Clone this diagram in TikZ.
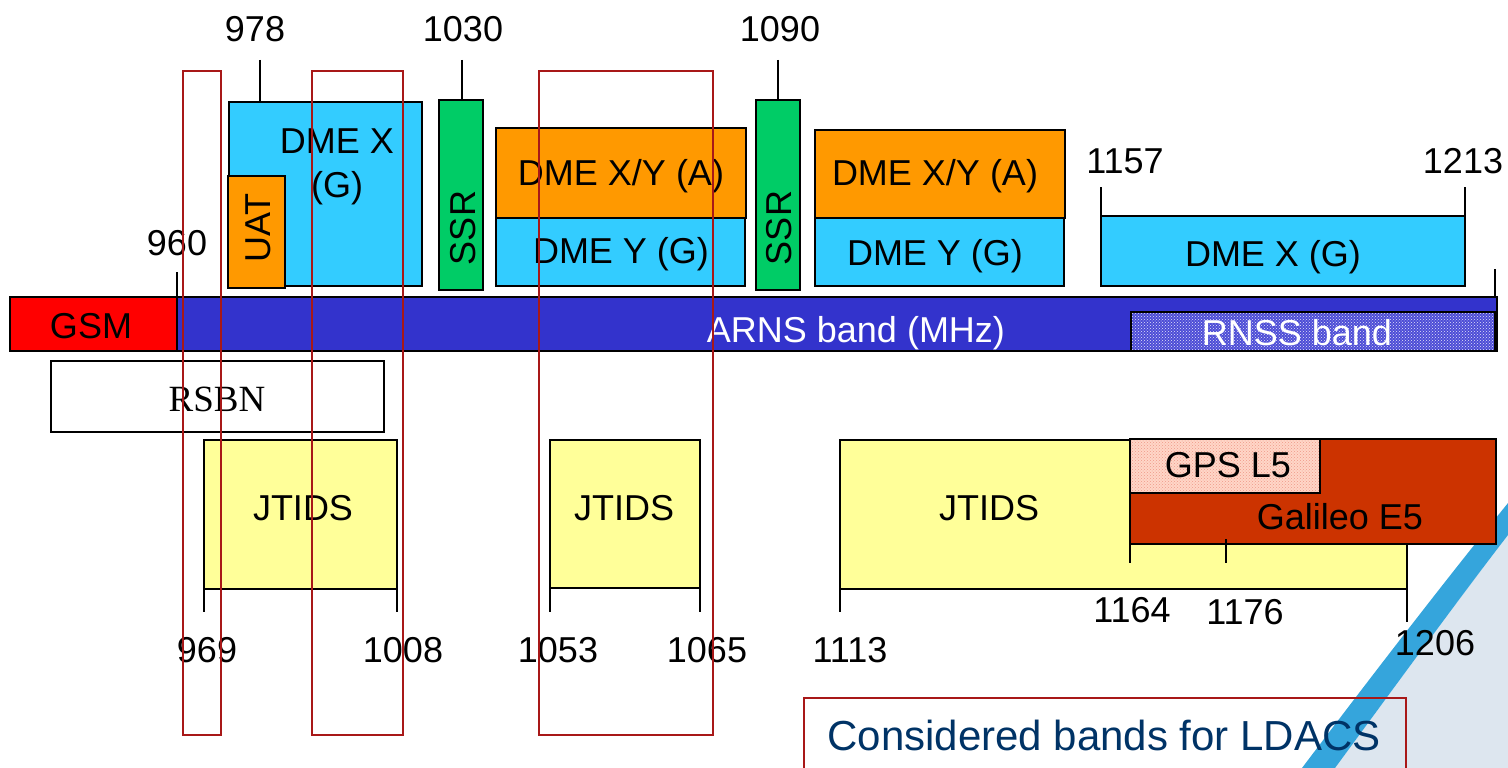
\documentclass[tikz,border=0pt]{standalone}
\usepackage{fontspec}
\setmainfont{Liberation Sans}
\newfontfamily\rsbnfont{Liberation Serif}
\usetikzlibrary{patterns}
\definecolor{dmeblue}{HTML}{33CCFF}
\definecolor{dmeorange}{HTML}{FF9900}
\definecolor{ssrgreen}{HTML}{00CC66}
\definecolor{gsmred}{HTML}{FF0000}
\definecolor{arnsblue}{HTML}{3333CC}
\definecolor{rnssblue}{HTML}{4C4CD6}
\definecolor{jtidsyellow}{HTML}{FFFF99}
\definecolor{galileored}{HTML}{CC3300}
\definecolor{gpspink}{HTML}{FFD6C8}
\definecolor{gpsdot}{HTML}{EE9A88}
\definecolor{ldacsred}{HTML}{A81818}
\definecolor{ldacsblue}{HTML}{003366}
\definecolor{swooshblue}{HTML}{35A5DC}
\definecolor{swooshbg}{HTML}{DDE6EF}
\newcommand\bandbox[6]{%
  \node[#2, anchor=north west, minimum width={(#5-#3)*1pt}, minimum height={(#6-#4)*1pt}] (#1) at (#3,#4) {};}
\tikzset{
  box/.style={rectangle, draw=black, line width=2.5pt, inner sep=0pt, outer sep=0pt},
  redbox/.style={rectangle, draw=ldacsred, line width=1.6pt, inner sep=0pt, outer sep=0pt},
  lbl/.style={font=\fontsize{36}{43}\selectfont, inner sep=0pt, anchor=base},
  vlbl/.style={font=\fontsize{36}{43}\selectfont, inner sep=0pt, rotate=90},
  tickline/.style={line width=2pt, draw=black},
}
\begin{document}
\begin{tikzpicture}[x=1pt,y=-1pt]
\useasboundingbox (0,0) rectangle (1508,768);
% background swoosh
\fill[swooshbg] (1508,535) .. controls (1460,597) and (1385,700) .. (1335,768) -- (1508,768) -- cycle;
\fill[swooshblue] (1508,503) .. controls (1447,578) and (1370,678) .. (1302,768) -- (1335,768) .. controls (1385,700) and (1460,597) .. (1508,535) -- cycle;
% main bar
\bandbox{arns}{box, fill=arnsblue}{10}{297}{1497}{351}
\bandbox{gsm}{box, fill=gsmred}{10}{297}{177}{351}
\bandbox{rnss}{box, line width=2pt, preaction={fill=rnssblue}, pattern=crosshatch dots, pattern color=white!85!rnssblue}{1131}{312}{1495}{351}
% upper band boxes
\bandbox{dmex1}{box, fill=dmeblue}{229}{102}{422}{286}
\bandbox{uat}{box, fill=dmeorange}{228}{176}{285}{288}
\bandbox{ssr1}{box, fill=ssrgreen}{439}{100}{483}{290}
\bandbox{dmexya1}{box, fill=dmeorange}{496}{128}{746}{218}
\bandbox{dmeyg1}{box, fill=dmeblue}{496}{218}{745}{286}
\bandbox{ssr2}{box, fill=ssrgreen}{756}{100}{800}{290}
\bandbox{dmexya2}{box, fill=dmeorange}{815}{130}{1065}{218}
\bandbox{dmeyg2}{box, fill=dmeblue}{815}{218}{1064}{286}
\bandbox{dmex3}{box, fill=dmeblue}{1101}{216}{1465}{286}
% lower band boxes
\bandbox{rsbn}{box, fill=white}{51}{361}{384}{432}
\bandbox{jtids1}{box, fill=jtidsyellow}{204}{440}{397}{589}
\bandbox{jtids2}{box, fill=jtidsyellow}{550}{440}{700}{588}
\bandbox{jtids3}{box, fill=jtidsyellow}{840}{440}{1407}{589}
\bandbox{galileo}{box, fill=galileored}{1130}{439}{1496}{544}
\bandbox{gps}{box, preaction={fill=gpspink}, pattern=crosshatch dots, pattern color=gpsdot}{1130}{439}{1320}{493}
% ticks
\draw[tickline] (260,60) -- (260,102);
\draw[tickline] (462,60) -- (462,100);
\draw[tickline] (778,60) -- (778,100);
\draw[tickline] (177,272) -- (177,297);
\draw[tickline] (1101,187) -- (1101,216);
\draw[tickline] (1465,187) -- (1465,225);
\draw[tickline] (1495,269) -- (1495,297);
\draw[tickline] (204,589) -- (204,612);
\draw[tickline] (397,589) -- (397,612);
\draw[tickline] (550,588) -- (550,612);
\draw[tickline] (700,588) -- (700,612);
\draw[tickline] (840,589) -- (840,612);
\draw[tickline] (1407,544) -- (1407,622);
\draw[tickline] (1130,544) -- (1130,563);
\draw[tickline] (1226,539) -- (1226,563);
% frequency labels
\node[lbl] (f978) at (255,42) {978};
\node[lbl] (f1030) at (463,42) {1030};
\node[lbl] (f1090) at (780,42) {1090};
\node[lbl] (f960) at (177,255) {960};
\node[lbl] (f1157) at (1125,173) {1157};
\node[lbl] (f1213) at (1463,173) {1213};
\node[lbl] (f969) at (207,662) {969};
\node[lbl] (f1008) at (403,662) {1008};
\node[lbl] (f1053) at (558,662) {1053};
\node[lbl] (f1065) at (707,662) {1065};
\node[lbl] (f1113) at (850,662) {1113};
\node[lbl] (f1164) at (1132,622) {1164};
\node[lbl] (f1176) at (1245,624) {1176};
\node[lbl] (f1206) at (1435,655) {1206};
% band names
\node[lbl] (tdmex1a) at (337,153) {DME X};
\node[lbl] (tdmex1b) at (337,197) {(G)};
\node[vlbl] (tuat) at (258,228) {UAT};
\node[vlbl] (tssr1) at (463,228) {SSR};
\node[vlbl] (tssr2) at (779,228) {SSR};
\node[lbl] (tdmexya1) at (621,185) {DME X/Y (A)};
\node[lbl] (tdmeyg1) at (621,263) {DME Y (G)};
\node[lbl] (tdmexya2) at (935,185) {DME X/Y (A)};
\node[lbl] (tdmeyg2) at (935,265) {DME Y (G)};
\node[lbl] (tdmex3) at (1273,266) {DME X (G)};
\node[lbl] (tgsm) at (91,338) {GSM};
\node[lbl, text=white] (tarns) at (856,342) {ARNS band (MHz)};
\node[lbl, text=white] (trnss) at (1297,345) {RNSS band};
\node[lbl, font=\rsbnfont\fontsize{37}{44}\selectfont] (trsbn) at (217,411) {RSBN};
\node[lbl] (tj1) at (303,520) {JTIDS};
\node[lbl] (tj2) at (624,520) {JTIDS};
\node[lbl] (tj3) at (989,520) {JTIDS};
\node[lbl] (tgps) at (1228,477) {GPS L5};
\node[lbl] (tgal) at (1340,529) {Galileo E5};
% considered LDACS bands
\bandbox{ldacsA}{redbox}{183}{71}{221}{735}
\bandbox{ldacsB}{redbox}{312}{71}{403}{735}
\bandbox{ldacsC}{redbox}{539}{71}{713}{735}
\bandbox{ldacsnote}{redbox}{804}{698}{1406}{790}
\node[lbl, font=\fontsize{42}{50}\selectfont, text=ldacsblue] (tldacs) at (1104,750) {Considered bands for LDACS};
\end{tikzpicture}
\end{document}
